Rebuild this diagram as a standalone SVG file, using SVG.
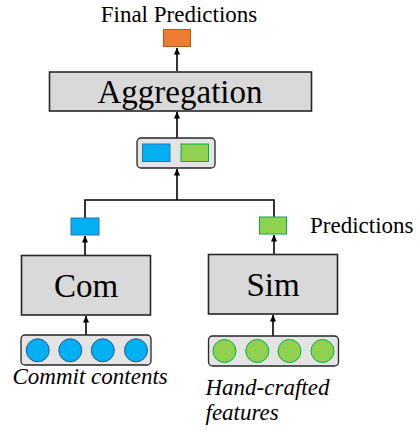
<svg xmlns="http://www.w3.org/2000/svg" width="417" height="432" viewBox="0 0 417 432">
<defs>
<style>
.box{fill:#d9d9d9;stroke:#262626;stroke-width:1.6}
.tray{fill:#e4e4e4;stroke:#262626;stroke-width:1.3}
.blue{fill:#00b0f0;stroke:#2e75b6;stroke-width:1}
.green{fill:#92d050;stroke:#00b050;stroke-width:1}
.bc{fill:#00b0f0;stroke:#2f5597;stroke-width:1}
.gc{fill:#92d050;stroke:#00b050;stroke-width:1}
text{font-family:"Liberation Serif","Times New Roman",serif;fill:#000}
.big{font-size:33px;text-anchor:middle}
.sm{font-size:23px}
.it{font-style:italic}
.conn{fill:none;stroke:#000;stroke-width:1.6}
</style>
<marker id="ah" viewBox="0 0 7 6" refX="6.5" refY="3" markerWidth="7" markerHeight="6" markerUnits="userSpaceOnUse" orient="auto">
<path d="M0,0 L7,3 L0,6 Z" fill="#000"/>
</marker>
</defs>
<g id="connectors">
<line class="conn" x1="177" y1="71" x2="177" y2="48" marker-end="url(#ah)"/>
<line class="conn" x1="177" y1="138" x2="177" y2="112" marker-end="url(#ah)"/>
<polyline class="conn" points="85,218 85,200 274,200 274,217"/>
<line class="conn" x1="177" y1="200" x2="177" y2="169" marker-end="url(#ah)"/>
<line class="conn" x1="85" y1="255" x2="85" y2="236" marker-end="url(#ah)"/>
<line class="conn" x1="274" y1="254" x2="274" y2="235" marker-end="url(#ah)"/>
<line class="conn" x1="86" y1="335" x2="86" y2="316" marker-end="url(#ah)"/>
<line class="conn" x1="273" y1="336" x2="273" y2="315" marker-end="url(#ah)"/>
</g>
<g id="final-predictions">
<text class="sm" x="179" y="22" text-anchor="middle">Final Predictions</text>
<rect x="163.5" y="29.5" width="27" height="17" fill="#ed7d31" stroke="#ae5a21" stroke-width="1"/>
</g>
<g id="aggregation">
<rect class="box" x="49.5" y="72" width="262" height="39"/>
<text class="big" x="180" y="103">Aggregation</text>
</g>
<g id="concat">
<rect class="tray" x="137" y="138" width="78" height="30" rx="4"/>
<rect class="blue" x="142.5" y="144" width="27.5" height="17.5"/>
<rect class="green" x="181" y="144" width="27.5" height="17.5"/>
</g>
<g id="com-pred">
<rect class="blue" x="71" y="218" width="28" height="17"/>
</g>
<g id="sim-pred">
<rect class="green" x="259.5" y="217" width="27" height="17"/>
<text class="sm" x="310" y="233">Predictions</text>
</g>
<g id="com">
<rect class="box" x="21.5" y="255.5" width="129" height="59.5"/>
<text class="big" x="86" y="297">Com</text>
</g>
<g id="sim">
<rect class="box" x="208.5" y="254.5" width="129" height="59.5"/>
<text class="big" x="273" y="296">Sim</text>
</g>
<g id="commit-contents">
<rect class="tray" x="21" y="335" width="130" height="30" rx="4"/>
<circle class="bc" cx="37.7" cy="350.3" r="11.5"/>
<circle class="bc" cx="70.3" cy="350.3" r="11.5"/>
<circle class="bc" cx="102.8" cy="350.3" r="11.5"/>
<circle class="bc" cx="136" cy="350.3" r="11.5"/>
<text class="sm it" x="12.5" y="384">Commit contents</text>
</g>
<g id="hand-crafted">
<rect class="tray" x="208.5" y="336" width="130" height="30" rx="4"/>
<circle class="gc" cx="224.5" cy="351" r="11.5"/>
<circle class="gc" cx="257.3" cy="351" r="11.5"/>
<circle class="gc" cx="289.5" cy="351" r="11.5"/>
<circle class="gc" cx="322.5" cy="351" r="11.5"/>
<text class="sm it" x="205.5" y="395">Hand-crafted</text>
<text class="sm it" x="205.5" y="420">features</text>
</g>
</svg>
